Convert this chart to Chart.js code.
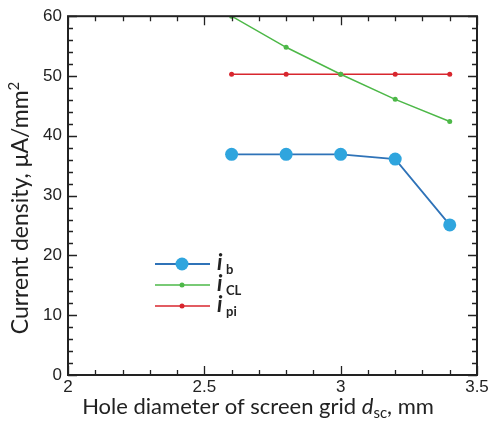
<!DOCTYPE html>
<html>
<head>
<meta charset="utf-8">
<script src="https://cdn.jsdelivr.net/npm/chart.js@4.4.1/dist/chart.umd.min.js"></script>
<style>
  html, body { margin: 0; padding: 0; background: #fff; }
  #wrap { width: 491px; height: 421px; }
</style>
</head>
<body>
<div id="wrap"><canvas id="c" width="491" height="421"></canvas></div>
<script>
const diameters = [2.6, 2.8, 3.0, 3.2, 3.4];
const iB = [36.9, 36.9, 36.9, 36.1, 25.1];
const iCL = [60.0, 54.8, 50.3, 46.1, 42.4];
const iPi = [50.3, 50.3, 50.3, 50.3, 50.3];
const seriesSubs = ["b", "CL", "pi"];
const xTicks = [2, 2.5, 3, 3.5];
const yTicks = [0, 10, 20, 30, 40, 50, 60];

const toPts = (ys) => diameters.map((x, i) => ({ x, y: ys[i] }));

// box with inward ticks, axis titles and the legend
const frame = {
  id: "frame",
  afterDraw(chart) {
    const { ctx, chartArea: a, scales } = chart;
    const xs = scales.x, ys = scales.y;
    ctx.save();
    ctx.strokeStyle = "#222";
    ctx.lineWidth = 2;
    ctx.strokeRect(a.left, a.top, a.right - a.left, a.bottom - a.top);

    ctx.lineWidth = 1.3;
    ctx.beginPath();
    for (let v = 2; v <= 3.5001; v += 0.1) {
      const px = Math.round(xs.getPixelForValue(v)) + 0.5;
      const major = Math.abs(v * 2 - Math.round(v * 2)) < 1e-6;
      const len = major ? 9 : 5;
      ctx.moveTo(px, a.bottom); ctx.lineTo(px, a.bottom - len);
      ctx.moveTo(px, a.top); ctx.lineTo(px, a.top + len);
    }
    for (let v = 0; v <= 60; v += 2) {
      const py = Math.round(ys.getPixelForValue(v)) + 0.5;
      const len = v % 10 === 0 ? 9 : 5;
      ctx.moveTo(a.left, py); ctx.lineTo(a.left + len, py);
      ctx.moveTo(a.right, py); ctx.lineTo(a.right - len, py);
    }
    ctx.stroke();

    // axis titles
    ctx.fillStyle = "#222";
    ctx.textBaseline = "alphabetic";
    const tf = "22px Lato";
    const sf = "15px Lato";
    const parts = [
      ["Hole diameter of screen grid ", tf, 0],
      ["d", "italic 22px Lato", 0],
      ["sc", sf, 4],
      [", mm", tf, 0],
    ];
    let w = 0;
    parts.forEach(([t, f]) => { ctx.font = f; w += ctx.measureText(t).width; });
    let x = 258 - w / 2;
    parts.forEach(([t, f, dy]) => {
      ctx.font = f;
      ctx.fillText(t, x, 414 + dy);
      x += ctx.measureText(t).width;
    });

    ctx.save();
    ctx.translate(28, 208);
    ctx.rotate(-Math.PI / 2);
    const yparts = [["Current density, \u03bcA/mm", "23px Lato", 0], ["2", sf, -9]];
    w = 0;
    yparts.forEach(([t, f]) => { ctx.font = f; w += ctx.measureText(t).width; });
    x = -w / 2;
    yparts.forEach(([t, f, dy]) => {
      ctx.font = f;
      ctx.fillText(t, x, dy);
      x += ctx.measureText(t).width;
    });
    ctx.restore();

    // legend
    chart.data.datasets.forEach((ds, i) => {
      const ly = 264 + i * 21;
      ctx.strokeStyle = ds.borderColor;
      ctx.lineWidth = ds.borderWidth;
      ctx.beginPath();
      ctx.moveTo(155, ly); ctx.lineTo(210, ly);
      ctx.stroke();
      ctx.fillStyle = ds.pointBackgroundColor;
      ctx.beginPath();
      ctx.arc(182, ly, ds.pointRadius, 0, Math.PI * 2);
      ctx.fill();
      ctx.fillStyle = "#222";
      ctx.font = "italic bold 22px Lato";
      ctx.fillText("i", 217, ly + 6);
      ctx.font = "bold 13px Lato";
      ctx.fillText(seriesSubs[i], 226, ly + 10);
    });
    ctx.restore();
  },
};

const tickFont = { family: "'Liberation Sans', Arial", size: 17 };
const plain = (v) => String(v);

new Chart(document.getElementById("c"), {
  type: "scatter",
  data: {
    datasets: [
      {
        data: toPts(iB), showLine: true,
        borderColor: "#2f73b8", borderWidth: 1.8,
        pointBackgroundColor: "#2fa5de", pointBorderWidth: 0, pointRadius: 6.5,
      },
      {
        data: toPts(iCL), showLine: true,
        borderColor: "#4db848", borderWidth: 1.5,
        pointBackgroundColor: "#4db848", pointBorderWidth: 0, pointRadius: 2.5,
      },
      {
        data: toPts(iPi), showLine: true,
        borderColor: "#d8262e", borderWidth: 1.5,
        pointBackgroundColor: "#d8262e", pointBorderWidth: 0, pointRadius: 2.5,
      },
    ],
  },
  options: {
    responsive: false,
    animation: false,
    layout: { padding: { left: 0, top: 13, right: 14, bottom: 0 } },
    plugins: { legend: { display: false }, tooltip: { enabled: false } },
    scales: {
      x: {
        type: "linear", min: 2, max: 3.5,
        grid: { display: false, drawTicks: false },
        border: { display: false },
        afterFit: (s) => { s.height = 46; },
        afterBuildTicks: (s) => { s.ticks = xTicks.map((v) => ({ value: v })); },
        ticks: { font: tickFont, color: "#222", padding: 2, maxRotation: 0, callback: plain },
      },
      y: {
        type: "linear", min: 0, max: 60,
        grid: { display: false, drawTicks: false },
        border: { display: false },
        afterFit: (s) => { s.width = 68; },
        afterBuildTicks: (s) => { s.ticks = yTicks.map((v) => ({ value: v })); },
        ticks: { font: tickFont, color: "#222", padding: 6, callback: plain },
      },
    },
  },
  plugins: [frame],
});
</script>
</body>
</html>
